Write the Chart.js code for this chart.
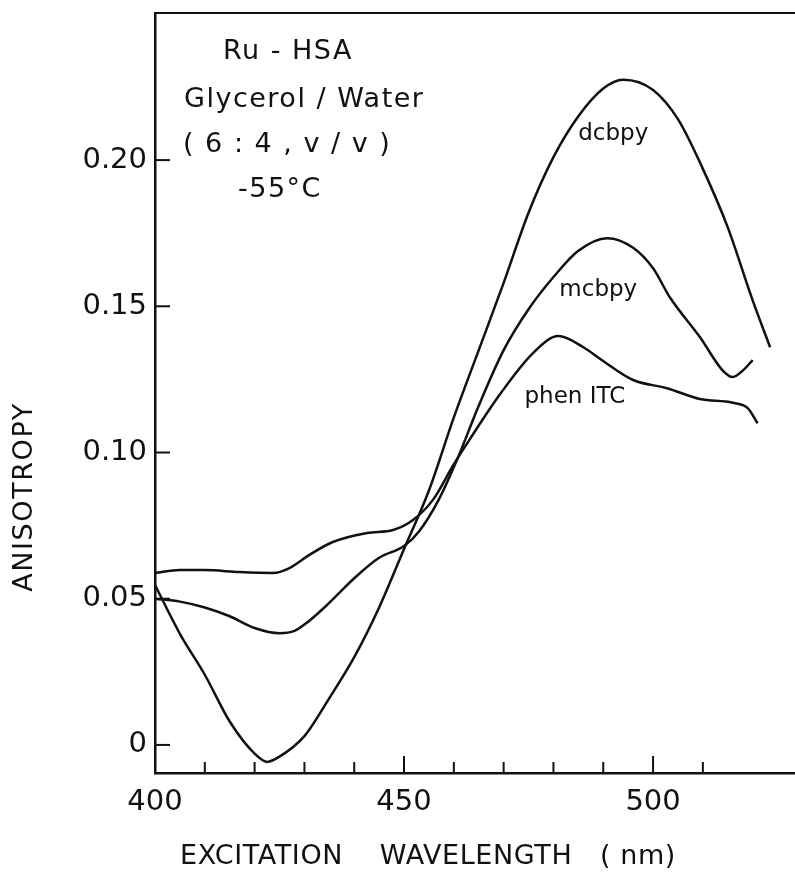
<!DOCTYPE html>
<html>
<head>
<meta charset="utf-8">
<script src="https://cdn.jsdelivr.net/npm/chart.js@4.4.0/dist/chart.umd.min.js"></script>
<style>
  body { margin: 0; background: #fff; }
  canvas { display: block; }
</style>
</head>
<body>
<canvas id="chart" width="795" height="873"></canvas>
<script>
// values (wavelength in nm, anisotropy)
const dcbpyX = [400, 405, 410, 415, 420, 422.5, 425, 430, 435, 440, 445, 450, 455, 460, 465, 470, 475, 480, 485, 490, 494, 500, 505, 510, 515, 520, 523.5];
const dcbpyY = [0.0547, 0.038, 0.024, 0.008, -0.003, -0.0058, -0.004, 0.003, 0.016, 0.030, 0.047, 0.067, 0.087, 0.112, 0.135, 0.158, 0.182, 0.201, 0.215, 0.2245, 0.2275, 0.224, 0.214, 0.197, 0.177, 0.152, 0.136];

const mcbpyX = [400, 405, 410, 415, 420, 425, 428, 431, 434, 437, 440, 445, 450, 453, 457, 461, 465, 470, 475, 480, 485, 490.8, 496, 500, 503.4, 509.4, 514, 516, 518, 520];
const mcbpyY = [0.050, 0.049, 0.047, 0.044, 0.040, 0.0382, 0.039, 0.0425, 0.047, 0.052, 0.057, 0.064, 0.068, 0.073, 0.084, 0.099, 0.116, 0.135, 0.149, 0.160, 0.169, 0.1733, 0.170, 0.163, 0.153, 0.1395, 0.128, 0.1258, 0.128, 0.1316];

const phenX = [400, 405, 410, 417, 423.7, 427, 431, 435.7, 442.6, 447.8, 451.8, 455.8, 460, 463, 469.3, 475.9, 481, 486, 489.4, 496, 502.8, 509.4, 516, 519, 521];
const phenY = [0.0588, 0.0598, 0.0598, 0.0591, 0.0588, 0.0605, 0.065, 0.0694, 0.0725, 0.0735, 0.0769, 0.0838, 0.096, 0.104, 0.120, 0.134, 0.1398, 0.136, 0.132, 0.1248, 0.122, 0.1183, 0.117, 0.1152, 0.110];

const yTicks = [0, 0.05, 0.10, 0.15, 0.20];
const xTickStep = 10;
const xLabelled = [400, 450, 500];

const curveLabels = [
  { text: "dcbpy", x: 492, y: 0.209 },
  { text: "mcbpy", x: 489, y: 0.1556 },
  { text: "phen ITC", x: 484.3, y: 0.119 }
];
const notes = ["Ru - HSA", "Glycerol / Water", "( 6 : 4 , v / v )", "-55°C"];
const xTitle = "EXCITATION    WAVELENGTH   ( nm)";
const yTitle = "ANISOTROPY";

const FONT = "'DejaVu Sans', sans-serif";
const ink = "#111";

function points(xs, ys) {
  return xs.map((x, i) => ({ x: x, y: ys[i] }));
}

function curve(label, xs, ys) {
  return {
    label: label,
    data: points(xs, ys),
    borderColor: ink,
    borderWidth: 2.5,
    pointRadius: 0,
    fill: false,
    cubicInterpolationMode: "monotone"
  };
}

// inward ticks, top frame line, axis titles and the text inside the plot
const decorations = {
  id: "decorations",
  afterDraw(chart) {
    const ctx = chart.ctx;
    const area = chart.chartArea;
    const xs = chart.scales.x;
    const ys = chart.scales.y;
    ctx.save();
    ctx.strokeStyle = ink;
    ctx.lineWidth = 2;
    ctx.beginPath();
    ctx.moveTo(area.left, area.top);
    ctx.lineTo(area.right, area.top);
    ctx.stroke();

    xs.ticks.forEach(t => {
      const px = xs.getPixelForValue(t.value);
      const len = xLabelled.includes(t.value) ? 17 : 11;
      ctx.beginPath();
      ctx.moveTo(px, area.bottom);
      ctx.lineTo(px, area.bottom - len);
      ctx.stroke();
    });
    ys.ticks.forEach(t => {
      const py = ys.getPixelForValue(t.value);
      ctx.beginPath();
      ctx.moveTo(area.left, py);
      ctx.lineTo(area.left + 15, py);
      ctx.stroke();
    });

    ctx.fillStyle = ink;
    ctx.textAlign = "center";
    ctx.textBaseline = "middle";
    ctx.font = "23px " + FONT;
    curveLabels.forEach(l => {
      ctx.fillText(l.text, xs.getPixelForValue(l.x), ys.getPixelForValue(l.y));
    });

    // sample conditions block, top left
    ctx.textAlign = "left";
    ctx.font = "27px " + FONT;
    ctx.letterSpacing = "1.5px";
    const noteX = [223, 184, 183, 238];
    const noteY = [52, 100, 145, 190];
    notes.forEach((n, i) => ctx.fillText(n, noteX[i], noteY[i]));

    // axis titles
    ctx.letterSpacing = "0.6px";
    ctx.fillText(xTitle, 180, 857);

    ctx.save();
    ctx.translate(25, 497);
    ctx.rotate(-Math.PI / 2);
    ctx.textAlign = "center";
    ctx.letterSpacing = "1.6px";
    ctx.fillText(yTitle, 0, 0);
    ctx.restore();

    ctx.restore();
  }
};

new Chart(document.getElementById("chart"), {
  type: "line",
  data: {
    datasets: [
      curve("dcbpy", dcbpyX, dcbpyY),
      curve("mcbpy", mcbpyX, mcbpyY),
      curve("phen ITC", phenX, phenY)
    ]
  },
  options: {
    responsive: false,
    animation: false,
    layout: { padding: { top: 13, right: 0, left: 0, bottom: 0 } },
    plugins: {
      legend: { display: false },
      tooltip: { enabled: false }
    },
    scales: {
      x: {
        type: "linear",
        min: 400,
        max: 528.5,
        afterFit: s => {
          s.height = 100;
          s.paddingLeft = 0;
          s.paddingRight = 0;
        },
        afterBuildTicks: s => {
          s.ticks = s.ticks.filter(t => t.value % xTickStep === 0 && t.value <= 520);
        },
        ticks: {
          stepSize: xTickStep,
          autoSkip: false,
          maxRotation: 0,
          padding: 12,
          color: ink,
          font: { family: FONT, size: 29 },
          callback: v => xLabelled.includes(v) ? String(v) : ""
        },
        grid: { display: false, drawTicks: false },
        border: { display: true, color: ink, width: 2.5 },
        title: { display: false }
      },
      y: {
        type: "linear",
        min: -0.0096,
        max: 0.2503,
        afterFit: s => {
          s.width = 155;
          s.paddingTop = 0;
          s.paddingBottom = 0;
        },
        afterBuildTicks: s => {
          s.ticks = yTicks.map(v => ({ value: v }));
        },
        ticks: {
          padding: 8,
          color: ink,
          font: { family: FONT, size: 29 },
          callback: v => v === 0 ? "0" : v.toFixed(2)
        },
        grid: { display: false, drawTicks: false },
        border: { display: true, color: ink, width: 2.5 },
        title: { display: false }
      }
    }
  },
  plugins: [decorations]
});
</script>
</body>
</html>
